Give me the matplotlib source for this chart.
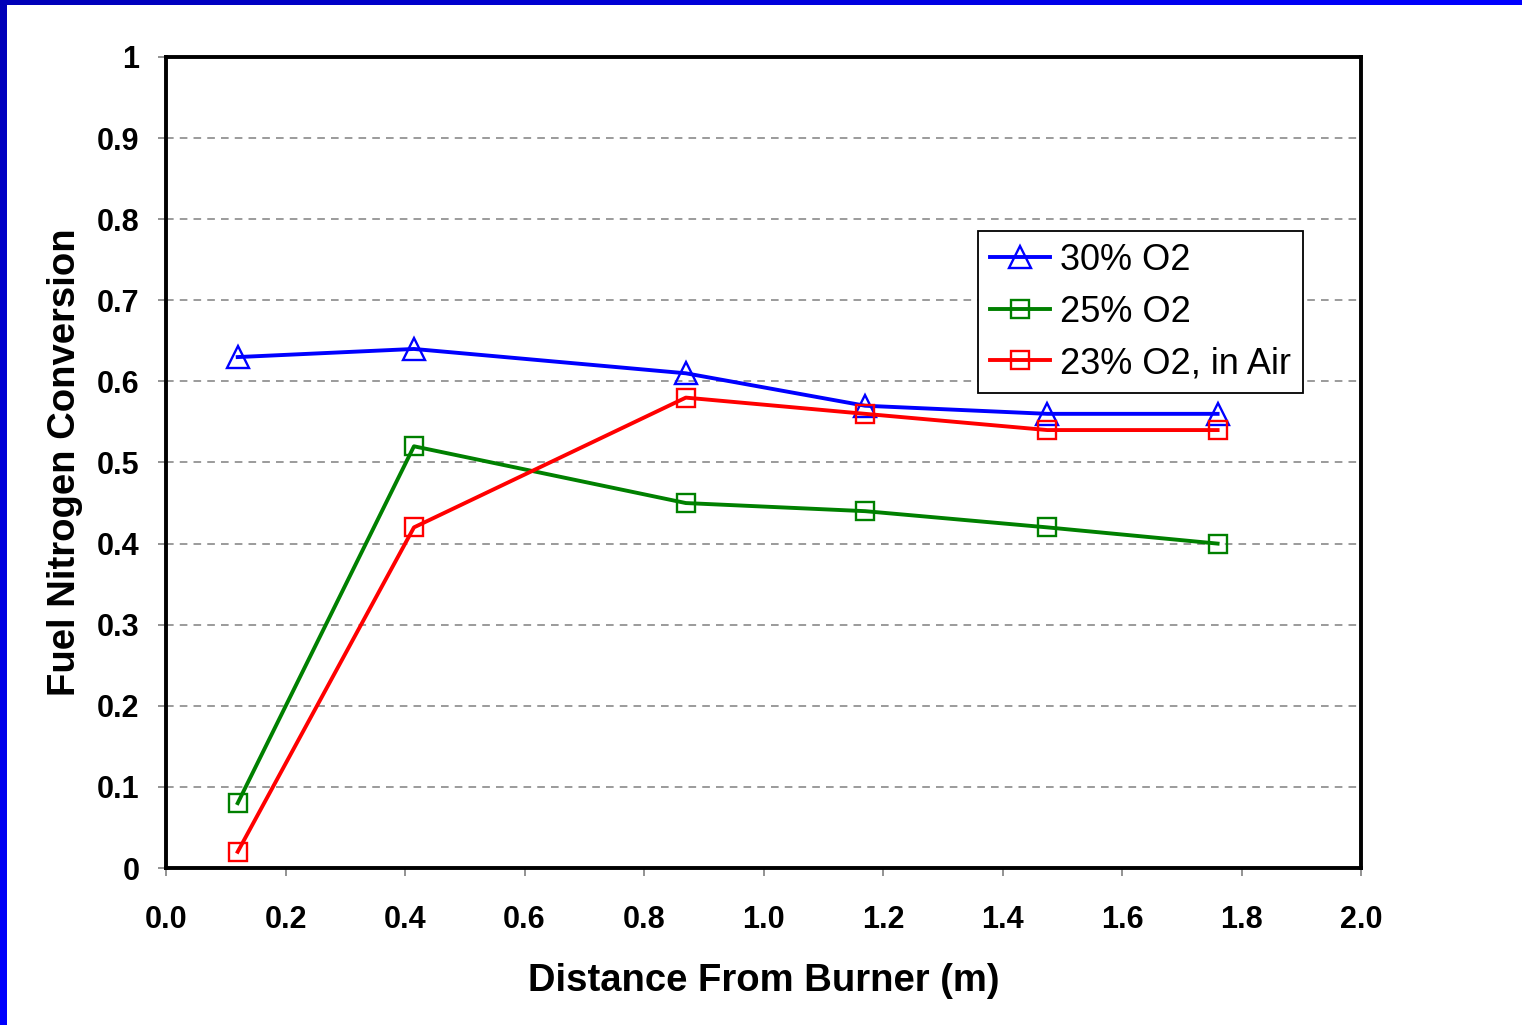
import matplotlib
matplotlib.use("Agg")
import matplotlib.pyplot as plt
import numpy as np

# distance from burner (m) and fuel-N conversion for each oxygen level
distance = [0.12, 0.415, 0.87, 1.17, 1.475, 1.76]
o2_30 = [0.63, 0.64, 0.61, 0.57, 0.56, 0.56]
o2_25 = [0.08, 0.52, 0.45, 0.44, 0.42, 0.40]
o2_23_air = [0.02, 0.42, 0.58, 0.56, 0.54, 0.54]

plt.rcParams['font.family'] = ['Liberation Sans', 'DejaVu Sans']

fig = plt.figure(figsize=(15.22, 10.25), dpi=100)

# slide frame: blue strips along the left and top edges
grad = np.linspace(0, 1, 256)
blues = matplotlib.colors.LinearSegmentedColormap.from_list('b', ['#0000b8', '#0000ff'])
left = fig.add_axes([0, 0, 7 / 1522, 1])
left.imshow(grad[:, None], aspect='auto', origin='upper', cmap=blues)
left.axis('off')
top = fig.add_axes([0, 1 - 5 / 1025, 1, 5 / 1025])
top.imshow(grad[None, :], aspect='auto', cmap=blues)
top.axis('off')

ax = fig.add_axes([166 / 1522, 1 - 868 / 1025, (1361 - 166) / 1522, (868 - 57) / 1025])

ax.plot(distance, o2_30, color='#0000ff', lw=2.8, marker='^', ms=16,
        mfc='none', mec='#0000ff', mew=1.7, label='30% O2')
ax.plot(distance, o2_25, color='#008000', lw=2.8, marker='s', ms=13,
        mfc='none', mec='#008000', mew=1.7, label='25% O2')
ax.plot(distance, o2_23_air, color='#ff0000', lw=2.8, marker='s', ms=13,
        mfc='none', mec='#ff0000', mew=1.7, label='23% O2, in Air')

ax.set_xlim(0, 2)
ax.set_ylim(0, 1)
ax.set_xticks(np.arange(0, 2.01, 0.2))
ax.set_xticklabels([f'{v:.1f}' for v in np.arange(0, 2.01, 0.2)])
ax.set_yticks(np.arange(0, 1.01, 0.1))
ax.set_yticklabels(['0', '0.1', '0.2', '0.3', '0.4', '0.5', '0.6', '0.7', '0.8', '0.9', '1'])

for y in np.arange(0.1, 0.95, 0.1):
    ax.axhline(y, color='#808080', lw=1.1, ls=(0, (5, 4)), zorder=0)

for s in ax.spines.values():
    s.set_linewidth(2.8)
    s.set_color('black')

ax.tick_params(direction='out', length=6, width=1.2, color='#808080',
               labelsize=22)
ax.tick_params(axis='x', pad=21)
ax.tick_params(axis='y', pad=13)
for lab in ax.get_xticklabels() + ax.get_yticklabels():
    lab.set_fontweight('bold')

ax.set_xlabel('Distance From Burner (m)', fontsize=27.5, fontweight='bold', labelpad=20)
ax.set_ylabel('Fuel Nitrogen Conversion', fontsize=27.5, fontweight='bold', labelpad=10)

leg = ax.legend(loc='upper left', bbox_to_anchor=((978 - 166) / 1195, 1 - (231 - 57) / 811),
                fontsize=26, frameon=True, fancybox=False, framealpha=1,
                edgecolor='black', borderpad=0.33, handlelength=1.65,
                handletextpad=0.3, labelspacing=0.46, borderaxespad=0)
leg.get_frame().set_linewidth(1.3)

fig.savefig('out.png', dpi=100)
